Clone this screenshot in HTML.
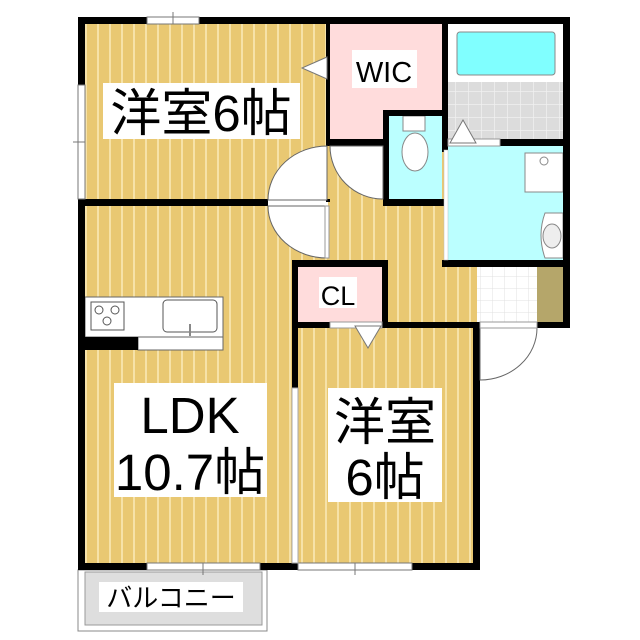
<!DOCTYPE html>
<html><head><meta charset="utf-8"><style>
html,body{margin:0;padding:0;background:#fff;}
svg{display:block;}
text{font-family:"Liberation Sans","Noto Sans CJK JP",sans-serif;fill:#000;}
</style></head><body>
<svg width="640" height="640" viewBox="0 0 640 640" xmlns="http://www.w3.org/2000/svg">
<defs>
<pattern id="fl" width="12" height="12" patternUnits="userSpaceOnUse" x="85">
<rect width="12" height="12" fill="#e9c872"/>
<rect x="0" width="2" height="12" fill="#f6e2a8"/>
</pattern>
<pattern id="tile" width="13" height="13" patternUnits="userSpaceOnUse">
<rect width="13" height="13" fill="#dcdcdc"/>
<path d="M0 0H13M0 0V13" stroke="#f0f0f0" stroke-width="1.5"/>
</pattern>
<pattern id="tile2" width="12" height="12" patternUnits="userSpaceOnUse">
<rect width="12" height="12" fill="#fff"/>
<path d="M0 0H12M0 0V12" stroke="#e0e0e0" stroke-width="1"/>
</pattern>
</defs>
<rect x="85" y="24" width="243" height="176" fill="url(#fl)"/>
<rect x="85" y="206" width="207" height="358" fill="url(#fl)"/>
<rect x="328" y="146" width="150" height="180" fill="url(#fl)"/>
<rect x="292" y="206" width="40" height="60" fill="url(#fl)"/>
<rect x="298" y="328" width="175" height="236" fill="url(#fl)"/>
<rect x="329" y="24" width="113" height="115" fill="#ffdcdc"/>
<rect x="389" y="116" width="53" height="83" fill="#bff"/>
<rect x="448" y="24" width="116" height="58" fill="#fff"/>
<rect x="457" y="32" width="98" height="43" rx="3" fill="#80ffff" stroke="#888" stroke-width="1"/>
<rect x="448" y="82" width="116" height="57" fill="url(#tile)"/>
<rect x="448" y="146" width="116" height="114" fill="#bff"/>
<rect x="525" y="153" width="38" height="39" fill="#fff" stroke="#888"/>
<circle cx="544" cy="161" r="4" fill="none" stroke="#888"/>
<path d="M563 213 H545 Q537 235 545 258 H563 Z" fill="#fff" stroke="#888"/>
<ellipse cx="552" cy="236" rx="9" ry="12" fill="#eee" stroke="#888"/>
<rect x="477" y="267" width="60" height="55" fill="url(#tile2)"/>
<rect x="537" y="267" width="27" height="55" fill="#b5a66a"/>
<rect x="298" y="267" width="84" height="55" fill="#ffdcdc"/>
<rect x="403" y="116" width="22" height="15" fill="#fff" stroke="#888"/>
<ellipse cx="415" cy="152" rx="13" ry="19" fill="#fff" stroke="#888"/>
<rect x="85" y="297" width="138" height="40" fill="#fff" stroke="#666"/>
<rect x="138" y="337" width="85" height="13" fill="#fff" stroke="#666"/>
<rect x="85" y="337" width="53" height="13" fill="#000"/>
<rect x="91" y="302" width="33" height="28" fill="none" stroke="#555"/>
<circle cx="99" cy="310" r="4" fill="none" stroke="#555"/>
<circle cx="115" cy="310" r="4" fill="none" stroke="#555"/>
<circle cx="107" cy="321" r="4" fill="none" stroke="#555"/>
<rect x="163" y="300" width="54" height="32" rx="4" fill="none" stroke="#555"/>
<rect x="189" y="324" width="2" height="12" fill="#888"/>
<rect x="78" y="570" width="189" height="61" fill="#fff" stroke="#888"/>
<rect x="85" y="572" width="177" height="53" fill="#dedede" stroke="#999"/>
<rect x="99" y="582" width="144" height="30" fill="#fff"/>
<text x="171" y="607" font-size="26" text-anchor="middle">バルコニー</text>
<g fill="#000">
<rect x="78" y="17" width="492" height="7"/>
<rect x="78" y="17" width="7" height="553"/>
<rect x="563" y="17" width="7" height="311"/>
<rect x="78" y="199" width="190" height="7"/>
<rect x="326" y="24" width="4" height="122"/>
<rect x="326" y="199" width="4" height="3"/>
<rect x="327" y="139" width="58" height="7"/>
<rect x="383" y="110" width="6" height="96"/>
<rect x="383" y="110" width="59" height="6"/>
<rect x="383" y="199" width="62" height="7"/>
<rect x="442" y="24" width="6" height="128"/>
<rect x="500" y="139" width="64" height="7"/>
<rect x="442" y="260" width="128" height="7"/>
<rect x="292" y="260" width="96" height="7"/>
<rect x="292" y="260" width="6" height="128"/>
<rect x="382" y="260" width="6" height="68"/>
<rect x="292" y="322" width="188" height="6"/>
<rect x="473" y="322" width="7" height="248"/>
<rect x="78" y="563" width="402" height="7"/>
<rect x="537" y="322" width="33" height="6"/>
</g>
<rect x="444" y="150" width="4" height="110" fill="#fff" stroke="#bbb" stroke-width="0.5"/>
<rect x="147" y="17" width="52" height="7" fill="#fff" stroke="#777"/>
<line x1="173" y1="12" x2="173" y2="24" stroke="#777"/>
<rect x="78" y="85" width="7" height="114" fill="#fff" stroke="#777"/>
<line x1="73" y1="142" x2="85" y2="142" stroke="#777"/>
<rect x="147" y="563" width="113" height="7" fill="#fff" stroke="#777"/>
<line x1="203" y1="563" x2="203" y2="575" stroke="#777"/>
<rect x="298" y="563" width="114" height="7" fill="#fff" stroke="#777"/>
<line x1="355" y1="563" x2="355" y2="575" stroke="#777"/>
<rect x="292" y="388" width="6" height="175" fill="#fff" stroke="#aaa"/>
<path d="M327 146 A59 54 0 0 0 268 200 H327 Z" fill="#fff" stroke="#666"/>
<path d="M327 206 H268 A59 52 0 0 0 327 258 Z" fill="#fff" stroke="#666"/>
<rect x="325" y="206" width="4" height="52" fill="#fff" stroke="#999"/>
<path d="M330 146 A53 53 0 0 0 383 199 V146 Z" fill="#fff" stroke="#666"/>
<path d="M480 328 H537 A57 52 0 0 1 480 380 Z" fill="#fff" stroke="#666"/>
<rect x="448" y="139" width="52" height="7" fill="#fff" stroke="#999"/>
<rect x="330" y="322" width="52" height="6" fill="#fff" stroke="#999"/>
<rect x="480" y="322" width="57" height="6" fill="#fff" stroke="#999"/>
<path d="M327 57 L302 68 L327 79 Z" fill="#fff" stroke="#777"/>
<path d="M463 120 L450 143 L476 143 Z" fill="#fff" stroke="#777"/>
<path d="M355 326 L368 348 L381 326 Z" fill="#fff" stroke="#777"/>
<rect x="103" y="83" width="197" height="56" fill="#fff"/>
<text x="201" y="131" font-size="51" text-anchor="middle">洋室6帖</text>
<rect x="352" y="50" width="65" height="38" fill="#fff"/>
<text x="384" y="82" font-size="29" text-anchor="middle">WIC</text>
<rect x="319" y="277" width="38" height="31" fill="#fff"/>
<text x="338" y="305" font-size="27" text-anchor="middle">CL</text>
<rect x="114" y="383" width="153" height="114" fill="#fff"/>
<text x="190" y="433" font-size="51" text-anchor="middle">LDK</text>
<text x="190" y="490" font-size="51" text-anchor="middle">10.7帖</text>
<rect x="328" y="388" width="114" height="114" fill="#fff"/>
<text x="385" y="440" font-size="51" text-anchor="middle">洋室</text>
<text x="385" y="495" font-size="51" text-anchor="middle">6帖</text>
</svg>
</body></html>
